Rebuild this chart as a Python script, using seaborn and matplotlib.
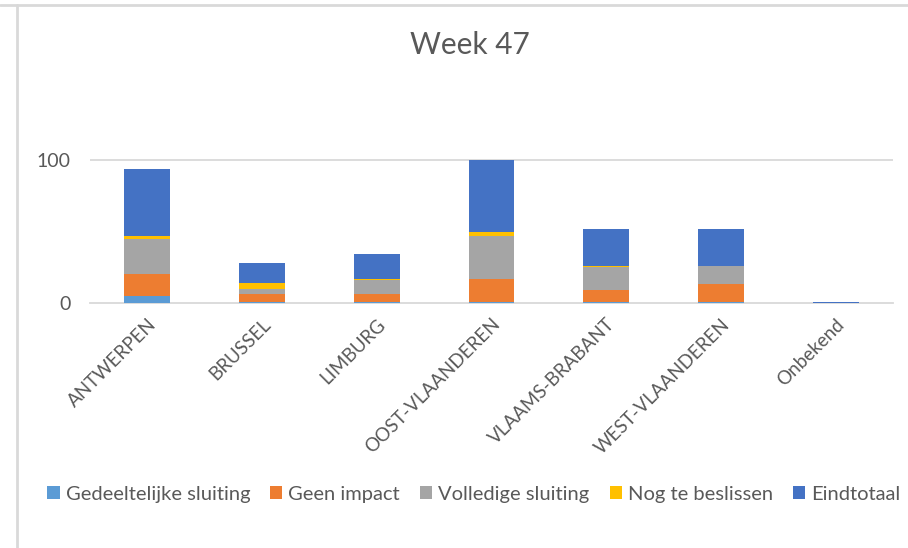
import matplotlib
matplotlib.use("Agg")
import matplotlib.pyplot as plt
from matplotlib.lines import Line2D
from matplotlib.patches import Patch
import numpy as np
import pandas as pd
import seaborn as sns

# Provinces and number of schools per status
provinces = ["ANTWERPEN", "BRUSSEL", "LIMBURG", "OOST-VLAANDEREN",
             "VLAAMS-BRABANT", "WEST-VLAANDEREN", "Onbekend"]
gedeeltelijke_sluiting = [5, 1, 1, 1, 1, 1, 0]
geen_impact = [15, 5, 5, 16, 8, 12, 0]
volledige_sluiting = [25, 4, 10, 30, 16, 13, 0]
nog_te_beslissen = [2, 4, 1, 3, 1, 0, 0]
eindtotaal = [47, 14, 17, 50, 26, 26, 1]

series_names = ["Gedeeltelijke sluiting", "Geen impact", "Volledige sluiting",
                "Nog te beslissen", "Eindtotaal"]
series_values = [gedeeltelijke_sluiting, geen_impact, volledige_sluiting,
                 nog_te_beslissen, eindtotaal]
series_colors = ["#5B9BD5", "#ED7D31", "#A5A5A5", "#FFC000", "#4472C4"]

sns.set_theme(style="white")
plt.rcParams["font.family"] = ["Lato", "DejaVu Sans"]

text_grey = "#595959"
line_grey = "#D9D9D9"

fig = plt.figure(figsize=(9.08, 5.48), dpi=100)
ax = fig.add_axes([90 / 908, 245 / 548, 803 / 908, 214 / 548])

bottom = np.zeros(len(provinces))
for name, vals, col in zip(series_names, series_values, series_colors):
    df = pd.DataFrame({"provincie": provinces, "aantal": vals})
    sns.barplot(data=df, x="provincie", y="aantal", order=provinces,
                color=col, width=0.4, bottom=bottom, ax=ax,
                edgecolor="none", linewidth=0, saturation=1, errorbar=None,
                zorder=3)
    bottom = bottom + np.array(vals, dtype=float)

ax.set_xlim(-0.5, len(provinces) - 0.5)
ax.set_ylim(0, 150)
ax.set_yticks([0, 100])
ax.set_yticklabels(["0", "100"], fontsize=14, color=text_grey)
ax.axhline(100, color=line_grey, lw=1.3, zorder=0)
ax.set_xlabel("")
ax.set_ylabel("")

for side in ["top", "right", "left"]:
    ax.spines[side].set_visible(False)
ax.spines["bottom"].set_color(line_grey)
ax.spines["bottom"].set_linewidth(1.3)

ax.tick_params(axis="y", length=0, pad=14)
ax.set_xticks(range(len(provinces)))
ax.set_xticklabels(provinces, rotation=45, ha="right",
                   rotation_mode="anchor", fontsize=13.5, color=text_grey)
ax.tick_params(axis="x", which="major", length=0, pad=9)
ax.set_xticks(np.arange(-0.5, len(provinces), 1.0), minor=True)
ax.tick_params(axis="x", which="minor", length=5, width=1.3,
               color=line_grey, direction="out")

fig.text(0.518, 0.917, "Week 47", ha="center", va="center",
         fontsize=21.5, color=text_grey)

handles = [Patch(facecolor=c, edgecolor="none") for c in series_colors]
fig.legend(handles, series_names, loc="center", ncol=5,
           bbox_to_anchor=(0.522, 0.098), frameon=False, fontsize=14.5,
           labelcolor=text_grey, handlelength=0.6, handleheight=0.6,
           handletextpad=0.3, columnspacing=1.0)

# Chart frame lines
fig.add_artist(Line2D([0, 1], [1 - 5 / 548, 1 - 5 / 548],
                      transform=fig.transFigure, color=line_grey, lw=2))
fig.add_artist(Line2D([17 / 908, 17 / 908], [0, 1 - 5 / 548],
                      transform=fig.transFigure, color=line_grey, lw=2))

fig.savefig("out.png", dpi=100, facecolor="white")
